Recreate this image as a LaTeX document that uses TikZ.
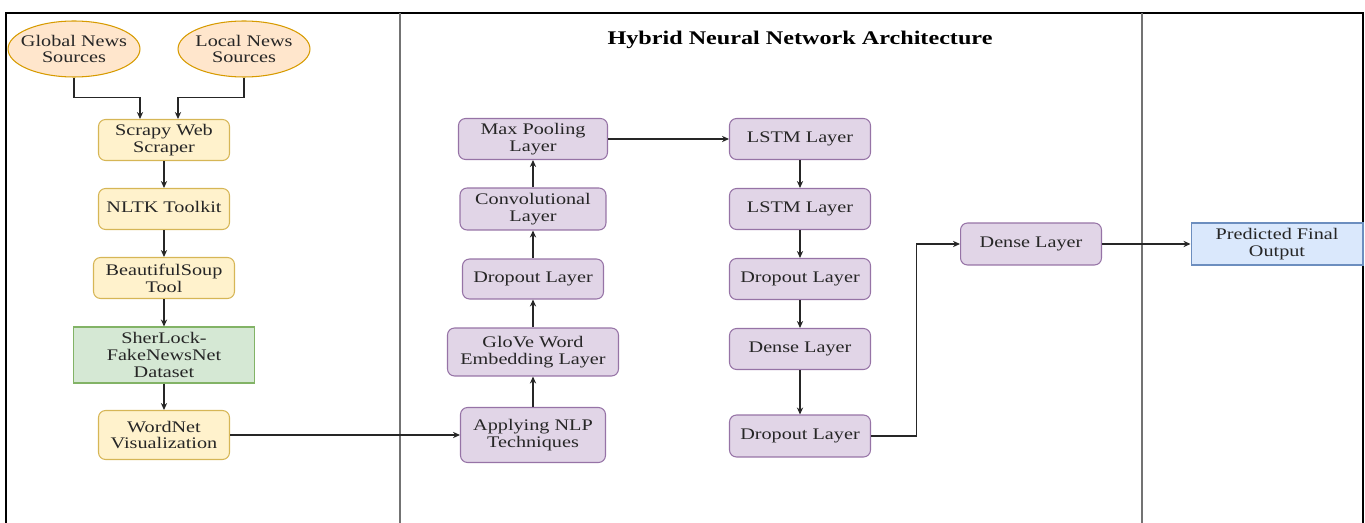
\documentclass[tikz,border=0pt]{standalone}
\usepackage{fontspec}
\setmainfont[FakeStretch=1.25]{Liberation Serif}
\usetikzlibrary{shapes.geometric, arrows.meta}

\definecolor{srcfill}{HTML}{FFE6CC}
\definecolor{srcline}{HTML}{D79B00}
\definecolor{toolfill}{HTML}{FFF2CC}
\definecolor{toolline}{HTML}{D6B656}
\definecolor{datafill}{HTML}{D5E8D4}
\definecolor{dataline}{HTML}{82B366}
\definecolor{layerfill}{HTML}{E1D5E7}
\definecolor{layerline}{HTML}{9673A6}
\definecolor{outfill}{HTML}{DAE8FC}
\definecolor{outline}{HTML}{6C8EBF}

\begin{document}
\begin{tikzpicture}[x=0.02cm, y=-0.02cm,
    txt/.style={font=\fontsize{9.2pt}{9.6pt}\selectfont, text=black!85, align=center, inner sep=0pt, line width=0.6pt},
    source/.style={txt, ellipse, draw=srcline, fill=srcfill, minimum width=2.64cm, minimum height=1.12cm, inner xsep=-0.4cm, inner ysep=-0.12cm},
    tool/.style={txt, rectangle, rounded corners=4pt, draw=toolline, fill=toolfill, minimum height=0.82cm},
    layer/.style={txt, rectangle, rounded corners=4pt, draw=layerline, fill=layerfill, minimum height=0.82cm},
    arr/.style={-{Stealth[length=4pt, width=3.6pt]}, line width=0.6pt, black!85}]
    \useasboundingbox (0,0) rectangle (1365,523);
    % Frame
    \draw[line width=1.6pt] (6,540) -- (6,13) -- (1363,13) -- (1363,540);
    \draw[line width=0.7pt, black!55] (400,13) -- (400,540);
    \draw[line width=0.7pt, black!55] (1142,13) -- (1142,540);
    \node[font=\fontsize{11pt}{12pt}\selectfont\bfseries] (title) at (800,40) {Hybrid Neural Network Architecture};
    % Data collection
    \node[source] (global) at (74,49) {Global News\\Sources};
    \node[source] (local) at (244,49) {Local News\\Sources};
    \node[tool, minimum width=2.62cm] (scrapy) at (164,140) {Scrapy Web\\Scraper};
    \node[tool, minimum width=2.62cm] (nltk) at (164,209) {NLTK Toolkit\strut};
    \node[tool, minimum width=2.82cm] (soup) at (164,278) {BeautifulSoup\\Tool};
    \node[txt, rectangle, draw=dataline, fill=datafill, minimum width=3.62cm, minimum height=1.12cm] (data) at (164,355) {SherLock-\\FakeNewsNet\\Dataset};
    \node[tool, minimum width=2.62cm, minimum height=0.98cm] (wordnet) at (164,435) {WordNet\\Visualization};
    % CNN branch
    \node[layer, minimum width=2.9cm, minimum height=1.1cm] (nlp) at (533,435) {Applying NLP\\Techniques};
    \node[layer, minimum width=3.42cm, minimum height=0.96cm] (glove) at (533,352) {GloVe Word\\Embedding Layer};
    \node[layer, minimum width=2.82cm, minimum height=0.8cm] (dropa) at (533,279) {Dropout Layer\strut};
    \node[layer, minimum width=2.92cm, minimum height=0.84cm] (conv) at (533,209) {Convolutional\\Layer};
    \node[layer, minimum width=2.98cm] (pool) at (533,139) {Max Pooling\\Layer};
    % LSTM branch
    \node[layer, minimum width=2.82cm] (lstma) at (800,139) {LSTM Layer\strut};
    \node[layer, minimum width=2.82cm] (lstmb) at (800,209) {LSTM Layer\strut};
    \node[layer, minimum width=2.82cm] (dropb) at (800,279) {Dropout Layer\strut};
    \node[layer, minimum width=2.82cm] (densea) at (800,349) {Dense Layer\strut};
    \node[layer, minimum width=2.82cm, minimum height=0.84cm] (dropc) at (800,436) {Dropout Layer\strut};
    \node[layer, minimum width=2.82cm, minimum height=0.84cm] (denseb) at (1031,244) {Dense Layer\strut};
    % Output
    \node[txt, rectangle, draw=outline, fill=outfill, minimum width=3.44cm, minimum height=0.84cm] (output) at (1277,244) {Predicted Final\\Output};
    % Connectors
    \draw[arr] (global.south) -- ++(0,20) -| ([xshift=-0.48cm]scrapy.north);
    \draw[arr] (local.south) -- ++(0,20) -| ([xshift=0.28cm]scrapy.north);
    \draw[arr] (scrapy) -- (nltk);
    \draw[arr] (nltk) -- (soup);
    \draw[arr] (soup) -- (data);
    \draw[arr] (data) -- (wordnet);
    \draw[arr] (wordnet) -- (nlp);
    \draw[arr] (nlp) -- (glove);
    \draw[arr] (glove) -- (dropa);
    \draw[arr] (dropa) -- (conv);
    \draw[arr] (conv) -- (pool);
    \draw[arr] (pool) -- (lstma);
    \draw[arr] (lstma) -- (lstmb);
    \draw[arr] (lstmb) -- (dropb);
    \draw[arr] (dropb) -- (densea);
    \draw[arr] (densea) -- (dropc);
    \draw[arr] (dropc.east) -- ++(45,0) |- (denseb.west);
    \draw[arr] (denseb) -- (output);
\end{tikzpicture}
\end{document}
